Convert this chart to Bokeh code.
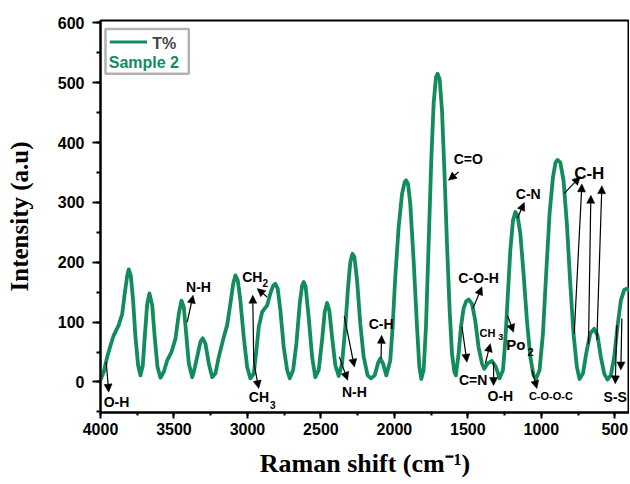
from bokeh.plotting import figure
from bokeh.models import (Range1d, SingleIntervalTicker, ColumnDataSource, Arrow,
                          NormalHead, Label, BoxAnnotation)
from bokeh.core.properties import value
from bokeh.embed import file_html
from bokeh.resources import INLINE

# ---------------- data ----------------
raman_shift = [4000, 3978, 3954, 3932, 3910, 3876, 3852, 3835, 3818, 3808, 3794, 3778, 3762,
               3744, 3728, 3712, 3699, 3682, 3667, 3648, 3631, 3612, 3592, 3569, 3546, 3517,
               3490, 3467, 3449, 3433, 3417, 3399, 3376,
               3365, 3342, 3320, 3304, 3286, 3263, 3240, 3218, 3195, 3161, 3138, 3116, 3097,
               3082, 3066, 3048, 3025, 3002, 2980, 2957, 2939, 2923, 2900, 2866, 2844, 2825,
               2810, 2794, 2776, 2753, 2730, 2712,
               2689, 2667, 2644, 2628, 2617, 2604, 2583, 2560, 2538, 2515, 2492, 2474, 2458,
               2443, 2424, 2402, 2379, 2356, 2334, 2315, 2300, 2286, 2272, 2254, 2232, 2209,
               2182, 2159, 2134, 2112, 2096, 2077, 2055,
               2028, 2012, 1994, 1971, 1948, 1930, 1921, 1907, 1892, 1869, 1846, 1830, 1817,
               1801, 1785, 1767, 1749, 1733, 1717, 1706, 1692, 1676, 1658, 1642, 1624, 1608,
               1592, 1582,
               1563, 1547, 1529, 1511, 1495, 1472, 1450, 1427, 1404, 1388, 1366, 1336, 1309,
               1284, 1261, 1245, 1230, 1211, 1193, 1177, 1162, 1143, 1121, 1098, 1075, 1053,
               1035, 1012, 989, 967, 944, 921, 903, 890, 871, 849, 826, 803, 781, 758, 740,
               717, 695, 667, 640, 618, 595, 572, 550, 527, 504, 482, 459, 436, 418, 400]
intensity = [3, 17, 42, 61, 78, 95, 114, 148, 178, 188, 178, 136, 75,
             28, 11, 28, 75, 131, 148, 128, 75, 25, 7, 17, 36, 50,
             72, 114, 136, 125, 81, 31, 8,
             17, 42, 67, 73, 64, 31, 8, 14, 42, 75, 95, 131, 164,
             178, 170, 136, 75, 25, 6, 14, 53, 92, 117, 128, 148, 161,
             164, 156, 120, 58, 20, 6,
             20, 64, 131, 161, 167, 159, 108, 42, 8, 20, 70, 117, 132,
             120, 75, 28, 10, 31, 92, 159, 200, 214, 209, 170, 97, 42,
             11, 6, 11, 31, 39, 31, 11,
             36, 92, 175, 259, 314, 334, 337, 331, 298, 203, 92, 25, 5,
             20, 92, 231, 370, 465, 509, 515, 506, 454, 342, 231, 120, 47,
             17, 11,
             47, 92, 123, 135, 138, 131, 103, 58, 31, 22, 31, 35, 25,
             6, 20, 70, 136, 220, 270, 284, 278, 248, 181, 103, 42, 11,
             6, 20, 81, 181, 281, 342, 367, 371, 367, 337, 264, 164, 81, 25, 5,
             14, 47, 81, 89, 78, 42, 14, 4, 11, 42, 92, 136, 154, 156, 153]
if len(raman_shift) != len(intensity):
    raise ValueError("length mismatch %d %d" % (len(raman_shift), len(intensity)))

x_ticks_interval = 500
y_ticks_interval = 100

# band labels (centred)
band_text = ["O-H", "N-H", "N-H", "C-H", "C=O", "C-O-H", "C=N", "O-H", "C-N", "C-O-O-C", "C-H", "S-S"]
band_x = [3891, 3333, 2272, 2090, 1497, 1427, 1464, 1279, 1089, 935, 674, 497]
band_y = [-33, 158, -17, 97, 372, 174, 4, -23, 314, -24, 349, -25]
band_size = ["14px", "14px", "14px", "14px", "14px", "14px", "14px", "14px", "14px", "11px", "17px", "14px"]

# labels with subscripts (left aligned)
sub_text = ["CH", "2", "CH", "3", "CH", "3", "Po", "2"]
sub_x = [3036, 2898, 2991, 2847, 1420, 1293, 1239, 1094]
sub_y = [176, 165, -25, -39, 82, 75, 63, 50]
sub_size = ["14px", "10px", "14px", "10px", "11px", "9px", "15px", "11px"]

# arrows
arr_x0 = [3961, 3410, 2866, 2957, 2957, 2341, 2375, 2091, 1563, 1465, 1540, 1381, 1325, 1230,
          1162, 1064, 844, 776, 679, 622, 452, 486]
arr_y0 = [33, 100, 142, 33, 33, 110, 42, 39, 351, 123, 92, 31, 33, 111, 274, 20, 315, 81, 64,
          70, 106, 95]
arr_x1 = [3944, 3370, 2934, 2964, 2923, 2272, 2318, 2087, 1632, 1404, 1506, 1347, 1325, 1189,
          1116, 1030, 735, 724, 663, 588, 459, 497]
arr_y1 = [-17, 145, 156, 145, -11, 25, 3, 78, 337, 159, 33, 64, -6, 83, 300, -11, 343, 331,
          312, 328, 20, -3]

GREEN = "#138c5c"
SANS = "Liberation Sans"
SERIF = "Liberation Serif"

p = figure(width=629, height=484, output_backend="svg", toolbar_location=None,
           x_range=Range1d(4000, 400), y_range=Range1d(-51, 604),
           min_border_left=100, min_border_right=0, min_border_top=20, min_border_bottom=72)
p.background_fill_color = "white"
p.border_fill_color = "white"
p.outline_line_color = "black"
p.outline_line_width = 2
p.grid.visible = False

p.xaxis.ticker = SingleIntervalTicker(interval=x_ticks_interval, num_minor_ticks=2)
p.yaxis.ticker = SingleIntervalTicker(interval=y_ticks_interval, num_minor_ticks=2)
for ax in (p.xaxis[0], p.yaxis[0]):
    ax.axis_line_width = 2
    ax.major_tick_line_width = 2
    ax.minor_tick_line_width = 2
    ax.major_tick_in = 0
    ax.minor_tick_in = 0
    ax.major_label_text_font = SANS
    ax.major_label_text_font_style = "bold"
    ax.major_label_text_font_size = "16px"
    ax.major_label_text_color = "black"
    ax.axis_label_text_font = SERIF
    ax.axis_label_text_font_style = "bold"
    ax.axis_label_text_color = "black"
p.xaxis.major_tick_out = 6
p.xaxis.minor_tick_out = 3
p.yaxis.major_tick_out = 8
p.yaxis.minor_tick_out = 4
p.xaxis.major_label_standoff = 4
p.yaxis.major_label_standoff = 8

p.yaxis.axis_label = "Intensity (a.u)"
p.yaxis.axis_label_text_font_size = "25px"
p.yaxis.axis_label_standoff = 22
p.xaxis.axis_label = "Raman shift (cm\u207b\u00b9)"
p.xaxis.axis_label_text_font_size = "26px"
p.xaxis.axis_label_standoff = 11

curve = p.line(raman_shift, intensity, line_color=GREEN, line_width=3.8, line_join="round")

arrow_src = ColumnDataSource(dict(x0=arr_x0, y0=arr_y0, x1=arr_x1, y1=arr_y1))
p.add_layout(Arrow(end=NormalHead(size=8, fill_color="black", line_color="black", line_width=0.5),
                   source=arrow_src, x_start="x0", y_start="y0", x_end="x1", y_end="y1",
                   line_color="black", line_width=1.2))

band_src = ColumnDataSource(dict(x=band_x, y=band_y, t=band_text, s=band_size))
p.text(x="x", y="y", text="t", source=band_src, text_font=value(SANS), text_font_style="bold",
       text_font_size="s", text_align="center", text_baseline="middle", text_color="black")
sub_src = ColumnDataSource(dict(x=sub_x, y=sub_y, t=sub_text, s=sub_size))
p.text(x="x", y="y", text="t", source=sub_src, text_font=value(SANS), text_font_style="bold",
       text_font_size="s", text_align="left", text_baseline="middle", text_color="black")

# legend
p.add_layout(BoxAnnotation(left=3966, right=3399, top=590, bottom=515, fill_color=None,
                           fill_alpha=0, line_color="black", line_width=2.5))
p.add_layout(Arrow(end=None, x_start=3937, y_start=568, x_end=3683, y_end=568,
                   line_color=GREEN, line_width=3))
p.add_layout(Label(x=3648, y=566, text="T%", text_font=SANS, text_font_style="bold",
                   text_font_size="16px", text_baseline="middle", text_align="left"))
p.add_layout(Label(x=3944, y=534, text="Sample 2", text_font=SANS, text_font_style="bold",
                   text_font_size="16px", text_baseline="middle", text_align="left",
                   text_color=GREEN))

open("out.html", "w").write(file_html(p, INLINE))
